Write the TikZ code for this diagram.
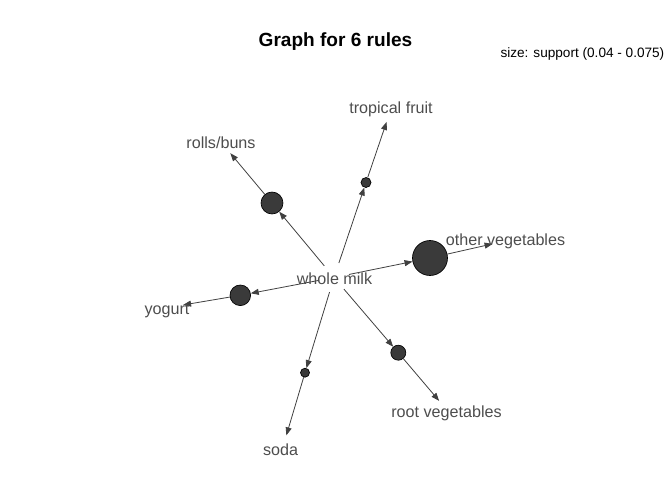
\documentclass[tikz,border=0pt]{standalone}
\usepackage{fontspec}
\setmainfont{Liberation Sans}
\usetikzlibrary{arrows.meta}
\definecolor{edgec}{HTML}{404040}
\definecolor{nodec}{HTML}{3A3A3A}
\definecolor{lblc}{HTML}{4D4D4D}
\begin{document}
\begin{tikzpicture}[x=0.75pt,y=-0.75pt,
 vtx/.style={circle,inner sep=0pt,minimum size=22.5pt},
 rulec/.style={circle,draw=black,fill=nodec,line width=0.5pt,inner sep=0pt,minimum size=#1*1.5pt},
 lbl/.style={text=lblc,font=\fontsize{12.1}{14}\selectfont,inner sep=0pt},
 edge/.style={draw=edgec,line width=0.6pt,-{Triangle[length=6pt,width=4.5pt]}}]
\useasboundingbox (0,0) rectangle (672,480);
% title and legend
\node[font=\fontsize{14.3}{16}\selectfont\bfseries] (title) at (335.5,42) {Graph for 6 rules};
\node[font=\fontsize{10.2}{12}\selectfont,anchor=east] (legend) at (669,54) {size: support (0.04 - 0.075)};
% vertices
\node[vtx] (wm) at (334,277.5) {};
\node[vtx] (rb) at (220.5,141.5) {};
\node[vtx] (tf) at (391.5,107.5) {};
\node[vtx] (ov) at (507.5,240.5) {};
\node[vtx] (yg) at (168,307.5) {};
\node[vtx] (rv) at (449,412.5) {};
\node[vtx] (sd) at (282,450) {};
% rule circles
\node[rulec=11] (r1) at (272,203) {};
\node[rulec=5] (r2) at (366,182.5) {};
\node[rulec=17.5] (r3) at (430,258) {};
\node[rulec=10.3] (r4) at (240.3,295.3) {};
\node[rulec=7.5] (r5) at (398.3,352.7) {};
\node[rulec=4.5] (r6) at (305,372.7) {};
% edges
\draw[edge] (wm) -- (r1); \draw[edge] (r1) -- (rb);
\draw[edge] (wm) -- (r2); \draw[edge] (r2) -- (tf);
\draw[edge] (wm) -- (r3); \draw[edge] (r3) -- (ov);
\draw[edge] (wm) -- (r4); \draw[edge] (r4) -- (yg);
\draw[edge] (wm) -- (r5); \draw[edge] (r5) -- (rv);
\draw[edge] (wm) -- (r6); \draw[edge] (r6) -- (sd);
% labels
\node[lbl] (wmt) at (334.5,278.5) {whole milk};
\node[lbl] (rbt) at (221,142.5) {rolls/buns};
\node[lbl] (tft) at (391,109) {tropical fruit};
\node[lbl] (ovt) at (505.5,241.5) {other vegetables};
\node[lbl] (ygt) at (167,310.5) {yogurt};
\node[lbl] (rvt) at (446.5,413) {root vegetables};
\node[lbl] (sdt) at (280.5,449.5) {soda};
\end{tikzpicture}
\end{document}
